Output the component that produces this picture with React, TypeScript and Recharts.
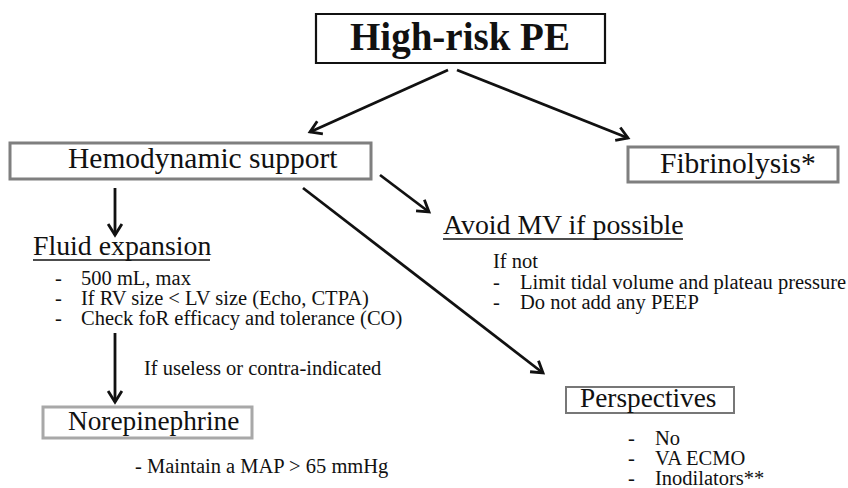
import { ScatterChart, Scatter, XAxis, YAxis, ReferenceArea, ReferenceLine } from "recharts";

const W = 848;
const H = 488;

// flowchart steps that sit in a frame (page coordinates, y going down)
const boxes = [
  { id: "highRisk", x1: 316, x2: 605, y1: 14, y2: 63, tone: "black" },
  { id: "hemo", x1: 10, x2: 371, y1: 143, y2: 179, tone: "grey" },
  { id: "fibrino", x1: 628, x2: 838, y1: 147, y2: 182, tone: "grey" },
  { id: "nore", x1: 43, x2: 252, y1: 407, y2: 438, tone: "light" },
  { id: "persp", x1: 566, x2: 734, y1: 387, y2: 413, tone: "thin" },
];

// titles: x = start of text, y = baseline
const titles = [
  { text: "High-risk PE", x: 350, y: 50, kind: "main" },
  { text: "Hemodynamic support", x: 68, y: 168, kind: "box" },
  { text: "Fibrinolysis*", x: 660, y: 173, kind: "box" },
  { text: "Norepinephrine", x: 68, y: 430, kind: "box2" },
  { text: "Perspectives", x: 580, y: 407, kind: "box2" },
  { text: "Fluid expansion", x: 33, y: 255, kind: "head" },
  { text: "Avoid MV if possible", x: 443, y: 234, kind: "head" },
];

const notes = [
  { text: "If useless or contra-indicated", x: 144, y: 375 },
  { text: "- Maintain a MAP > 65 mmHg", x: 135, y: 473 },
  { text: "If not", x: 493, y: 268 },
];

// bulleted lists
const fluidItems = ["500 mL, max", "If RV size < LV size (Echo, CTPA)", "Check foR efficacy and tolerance (CO)"];
const mvItems = ["Limit tidal volume and plateau pressure", "Do not add any PEEP"];
const perspItems = ["No", "VA ECMO", "Inodilators**"];

const lists = [
  { items: fluidItems, dashX: 55, textX: 81, y0: 285, step: 20 },
  { items: mvItems, dashX: 493, textX: 520, y0: 288.5, step: 20 },
  { items: perspItems, dashX: 628, textX: 655, y0: 445, step: 20 },
];

// arrows: from -> to (head at "to")
const arrows = [
  { from: [448, 70], to: [310, 132] },
  { from: [457, 70], to: [628, 138] },
  { from: [115, 188], to: [115, 235] },
  { from: [380, 175], to: [429, 212] },
  { from: [303, 188], to: [543, 373] },
  { from: [115, 333], to: [115, 402] },
];

const underlines = [
  { x1: 33, x2: 210, y: 260 },
  { x1: 443, x2: 683, y: 239 },
];

const fontStyles: Record<string, { size: number; weight: number }> = {
  main: { size: 39, weight: 700 },
  box: { size: 29.5, weight: 400 },
  box2: { size: 27.3, weight: 400 },
  head: { size: 27.8, weight: 400 },
  note: { size: 20.5, weight: 400 },
};

const boxStroke: Record<string, { color: string; width: number }> = {
  black: { color: "#111", width: 2.2 },
  grey: { color: "#7f7f7f", width: 3 },
  light: { color: "#a8a8a8", width: 3 },
  thin: { color: "#777", width: 2 },
};

const FONT = "Liberation Serif, Times New Roman, DejaVu Serif, serif";

const textRows = [
  ...titles,
  ...notes.map((n) => ({ ...n, kind: "note" })),
  ...lists.flatMap((l) =>
    l.items.flatMap((t, i) => [
      { text: "-", x: l.dashX, y: l.y0 + i * l.step, kind: "note" },
      { text: t, x: l.textX, y: l.y0 + i * l.step, kind: "note" },
    ])
  ),
];

const TextMark = (p: any) => {
  const d = p.payload;
  const s = fontStyles[d.kind];
  return (
    <text
      x={p.cx}
      y={p.cy}
      style={{ fontFamily: FONT, fontSize: s.size, fontWeight: s.weight }}
      fill="#111"
    >
      {d.text}
    </text>
  );
};

const ArrowShape = (p: any) => {
  const { x1, y1, x2, y2 } = p;
  const a = Math.atan2(y2 - y1, x2 - x1);
  const len = 13;
  const spread = 0.56;
  const pts = [
    [x2 - len * Math.cos(a - spread), y2 - len * Math.sin(a - spread)],
    [x2, y2],
    [x2 - len * Math.cos(a + spread), y2 - len * Math.sin(a + spread)],
  ];
  return (
    <g>
      <line x1={x1} y1={y1} x2={x2} y2={y2} stroke="#111" strokeWidth={2.8} />
      <polyline points={pts.map((q) => q.join(",")).join(" ")} fill="none" stroke="#111" strokeWidth={2.8} />
    </g>
  );
};

export default function App() {
  return (
    <div style={{ position: "absolute", left: 0, top: 0, width: W, height: H, background: "#fff", fontFamily: FONT }}>
      <ScatterChart width={W} height={H} margin={{ top: 0, right: 0, bottom: 0, left: 0 }}>
        <XAxis dataKey="x" type="number" domain={[0, W]} allowDataOverflow hide />
        <YAxis dataKey="y" type="number" domain={[0, H]} allowDataOverflow reversed hide />
        {boxes.map((b) => (
          <ReferenceArea
            key={b.id}
            x1={b.x1}
            x2={b.x2}
            y1={b.y1}
            y2={b.y2}
            fill="#fff"
            fillOpacity={0}
            stroke={boxStroke[b.tone].color}
            strokeWidth={boxStroke[b.tone].width}
          />
        ))}
        {arrows.map((a, i) => (
          <ReferenceLine
            key={"arrow" + i}
            segment={[
              { x: a.from[0], y: a.from[1] },
              { x: a.to[0], y: a.to[1] },
            ]}
            shape={ArrowShape}
          />
        ))}
        {underlines.map((u, i) => (
          <ReferenceLine
            key={"ul" + i}
            segment={[
              { x: u.x1, y: u.y },
              { x: u.x2, y: u.y },
            ]}
            stroke="#111"
            strokeWidth={1.4}
          />
        ))}
        <Scatter data={textRows} shape={TextMark} isAnimationActive={false} />
      </ScatterChart>
    </div>
  );
}
